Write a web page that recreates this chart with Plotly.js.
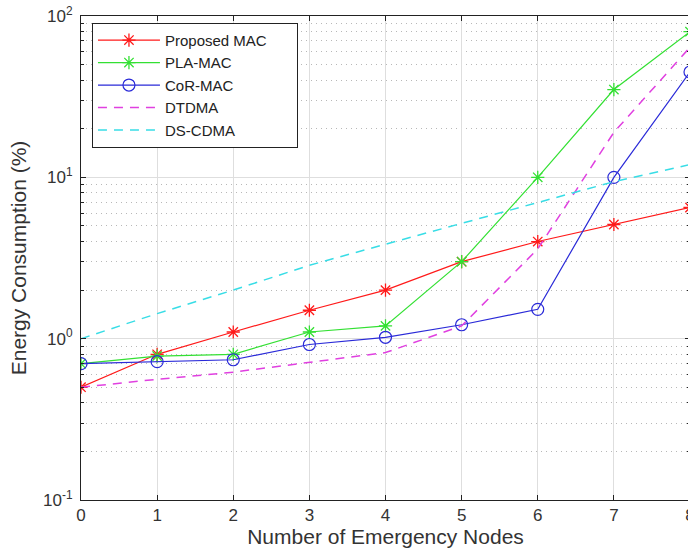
<!DOCTYPE html>
<html>
<head>
<meta charset="utf-8">
<script src="https://cdn.plot.ly/plotly-3.0.1.min.js"></script>
<style>html,body{margin:0;padding:0;overflow:hidden;background:#fff}#plot{width:692px;height:554px}</style>
</head>
<body>
<div id="plot"></div>
<script>
const nodes = [0, 1, 2, 3, 4, 5, 6, 7, 8];
const proposedMAC = [0.5, 0.8, 1.1, 1.5, 2.0, 3.0, 4.0, 5.1, 6.5];
const plaMAC = [0.7, 0.78, 0.8, 1.1, 1.2, 3.0, 10, 35, 80];
const corMAC = [0.7, 0.72, 0.74, 0.92, 1.02, 1.22, 1.52, 10, 45];
const dtdma = [0.5, 0.56, 0.62, 0.71, 0.82, 1.2, 3.6, 19, 64];
const dscdma = [1.0, 1.43, 2.0, 2.85, 3.85, 5.2, 7.0, 9.4, 12];
const seriesNames = ["Proposed MAC", "PLA-MAC", "CoR-MAC", "DTDMA", "DS-CDMA"];
const yTickVals = [0.1, 1, 10, 100];
const yTickText = ["10<sup>-1</sup>", "10<sup>0</sup>", "10<sup>1</sup>", "10<sup>2</sup>"];
const yMinorVals = [0.2,0.3,0.4,0.5,0.6,0.7,0.8,0.9,2,3,4,5,6,7,8,9,20,30,40,50,60,70,80,90];

// right padding inside the legend box
const pad = '\u00a0\u00a0\u00a0\u00a0\u00a0\u00a0';

const traces = [
  {x: nodes, y: proposedMAC, name: seriesNames[0] + pad, mode: 'lines+markers',
   line: {color: '#ff1a1a', width: 1.2}, marker: {symbol: 'asterisk-open', size: 11, color: '#ff1a1a', line: {width: 1.3, color: '#ff1a1a'}}},
  {x: nodes, y: plaMAC, name: seriesNames[1] + pad, mode: 'lines+markers',
   line: {color: '#33e033', width: 1.2}, marker: {symbol: 'asterisk-open', size: 11, color: '#33e033', line: {width: 1.3, color: '#33e033'}}},
  {x: nodes, y: corMAC, name: seriesNames[2] + pad, mode: 'lines+markers',
   line: {color: '#2a2ad8', width: 1.2}, marker: {symbol: 'circle-open', size: 12, color: '#2a2ad8', line: {width: 1.2, color: '#2a2ad8'}}},
  {x: nodes, y: dtdma, name: seriesNames[3] + pad, mode: 'lines',
   line: {color: '#e040e0', width: 1.5, dash: '9px,7px'}},
  {x: nodes, y: dscdma, name: seriesNames[4] + pad, mode: 'lines',
   line: {color: '#38dde6', width: 1.5, dash: '9px,7px'}}
];

const fam = 'Liberation Sans, Arial, sans-serif';
const tickFont = {family: fam, size: 17, color: '#333333'};
const titleFont = {family: fam, size: 21, color: '#333333'};

const layout = {
  width: 692, height: 554,
  margin: {l: 81, r: 2, t: 16, b: 54},
  paper_bgcolor: '#ffffff', plot_bgcolor: '#ffffff',
  font: tickFont,
  showlegend: true,
  legend: {
    x: 0.018, y: 0.986, xanchor: 'left', yanchor: 'top',
    bgcolor: '#ffffff', bordercolor: '#222222', borderwidth: 1,
    font: {family: fam, size: 15, color: '#222'},
    itemwidth: 62, tracegroupgap: 0
  },
  xaxis: {
    range: [0, 8], tickvals: nodes, ticks: 'inside', ticklen: 5, tickcolor: '#222',
    showline: true, linecolor: '#222', linewidth: 1, mirror: 'ticks',
    showgrid: true, gridcolor: '#dedede', gridwidth: 1, zeroline: false,
    tickfont: tickFont, ticklabeloverflow: 'allow',
    title: {text: 'Number of Emergency Nodes', font: titleFont, standoff: 4}
  },
  yaxis: {
    type: 'log', range: [-1, 2], tickvals: yTickVals, ticktext: yTickText,
    ticks: 'inside', ticklen: 5, tickcolor: '#222',
    showline: true, linecolor: '#222', linewidth: 1, mirror: 'ticks',
    showgrid: true, gridcolor: '#dedede', gridwidth: 1, zeroline: false,
    tickfont: tickFont, ticklabeloverflow: 'allow', ticklabelstandoff: 4,
    minor: {tickvals: yMinorVals, ticks: 'inside', ticklen: 3, tickcolor: '#222',
            showgrid: true, gridcolor: '#b8b8b8', griddash: '1px,4px', gridwidth: 1},
    title: {text: 'Energy Consumption (%)', font: titleFont, standoff: 10}
  }
};

Plotly.newPlot('plot', traces, layout, {displayModeBar: false, staticPlot: true});
</script>
</body>
</html>
